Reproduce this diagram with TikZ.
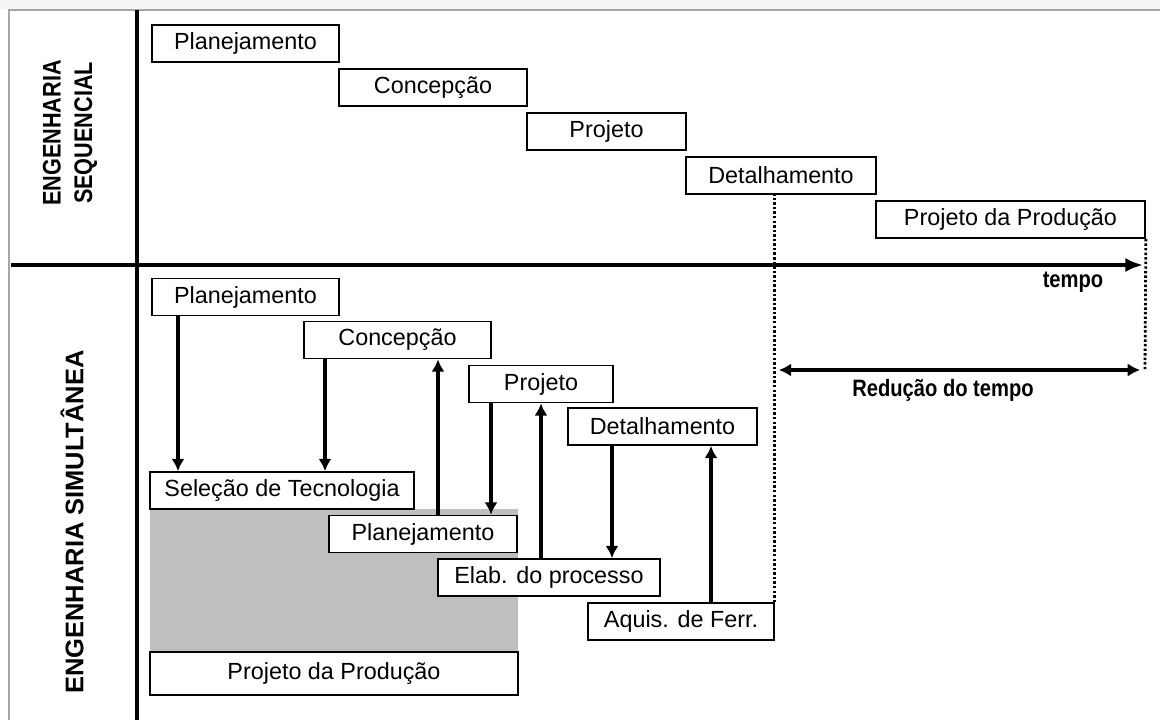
\documentclass[tikz,border=0pt]{standalone}
\usepackage{fontspec}
\setmainfont{Liberation Sans}
\usetikzlibrary{arrows.meta}

\tikzset{
  etapa/.style = {draw, fill = white, line width = 1pt, minimum height = 0.74cm, inner sep = 0pt, font = \fontsize{13.3}{16}\selectfont},
  seta/.style = {line width = 2pt, -{Latex[length = 7pt, width = 7.5pt]}},
  pontilhado/.style = {line width = 1.6pt, dash pattern = on 1.4pt off 1.2pt},
  titulo/.style = {rotate = 90, align = center, font = \fontsize{14.5}{18}\bfseries\selectfont},
  rotulo/.style = {xscale = 0.85, font = \fontsize{13.5}{16}\bfseries\selectfont}
}

\begin{document}
\begin{tikzpicture}[x = 0.02cm, y = -0.02cm]

\useasboundingbox (0,0) rectangle (1160,720);

\fill [gray!8] (0,0) rectangle (1160,9);
\draw [gray!70, line width = 1pt] (9,720) -- (9,10) -- (1160,10);

\node [titulo, xscale = 0.85] (seq) at (70,133) {ENGENHARIA\\SEQUENCIAL};
\node [titulo] (sim) at (72,522) {ENGENHARIA SIMULTÂNEA};

\draw [line width = 2pt] (137,10) -- (137,720);
\coordinate (t0) at (11,265);
\coordinate (t1) at (1143,265);
\draw [line width = 2.2pt, -{Latex[length = 10pt, width = 8pt]}] (t0) -- (t1);
\node [rotulo] (tempo) at (1073,282) {tempo};


\node [etapa, minimum width = 3.74cm] (sp) at (245.5,43.5) {Planejamento};
\node [etapa, minimum width = 3.76cm] (sc) at (433,87.5) {Concepção};
\node [etapa, minimum width = 3.18cm] (sj) at (606.5,131.5) {Projeto};
\node [etapa, minimum width = 3.8cm] (sd) at (781,175.5) {Detalhamento};
\node [etapa, minimum width = 5.38cm] (spp) at (1010.5,219.5) {Projeto da Produção};

\fill [black!25] (150,509) rectangle (518,652);

\node [etapa, minimum width = 3.74cm] (p2) at (245.5,297) {Planejamento};
\node [etapa, minimum width = 3.74cm] (c2) at (397.5,340) {Concepção};
\node [etapa, minimum width = 2.88cm] (j2) at (541,384) {Projeto};
\node [etapa, minimum width = 3.78cm] (d2) at (662.5,426.5) {Detalhamento};
\node [etapa, minimum width = 5.28cm] (sel) at (282,490.5) {Seleção de Tecnologia};
\node [etapa, minimum width = 3.76cm] (pl2) at (423,534) {Planejamento};
\node [etapa, minimum width = 4.44cm] (el) at (549,577.5) {Elab. do processo};
\node [etapa, minimum width = 3.72cm] (aq) at (681,621.5) {Aquis. de Ferr.};
\node [etapa, minimum width = 7.36cm, minimum height = 0.86cm] (pp2) at (334,673.5) {Projeto da Produção};

\draw [seta] (178,0 |- p2.south) -- (178,0 |- sel.north);
\draw [seta] (325,0 |- c2.south) -- (325,0 |- sel.north);
\draw [seta] (438,0 |- pl2.north) -- (438,0 |- c2.south);
\draw [seta] (491,0 |- j2.south) -- (491,0 |- pl2.north);
\draw [seta] (541,0 |- el.north) -- (541,0 |- j2.south);
\draw [seta] (612,0 |- d2.south) -- (612,0 |- el.north);
\draw [seta] (711,0 |- aq.north) -- (711,0 |- d2.south);

\coordinate (fim) at (1145,370);
\draw [pontilhado] (aq.north east) -- (aq.north east |- sd.south);
\draw [pontilhado] (spp.south east) -- (fim);
\draw [line width = 2pt, {Latex[length = 7pt, width = 7.5pt]}-{Latex[length = 7pt, width = 7.5pt]}] ([xshift = 0.08cm]aq.north east |- fim) -- ([xshift = -0.1cm]fim);
\node [rotulo] (reducao) at (943,390) {Redução do tempo};

\end{tikzpicture}
\end{document}
